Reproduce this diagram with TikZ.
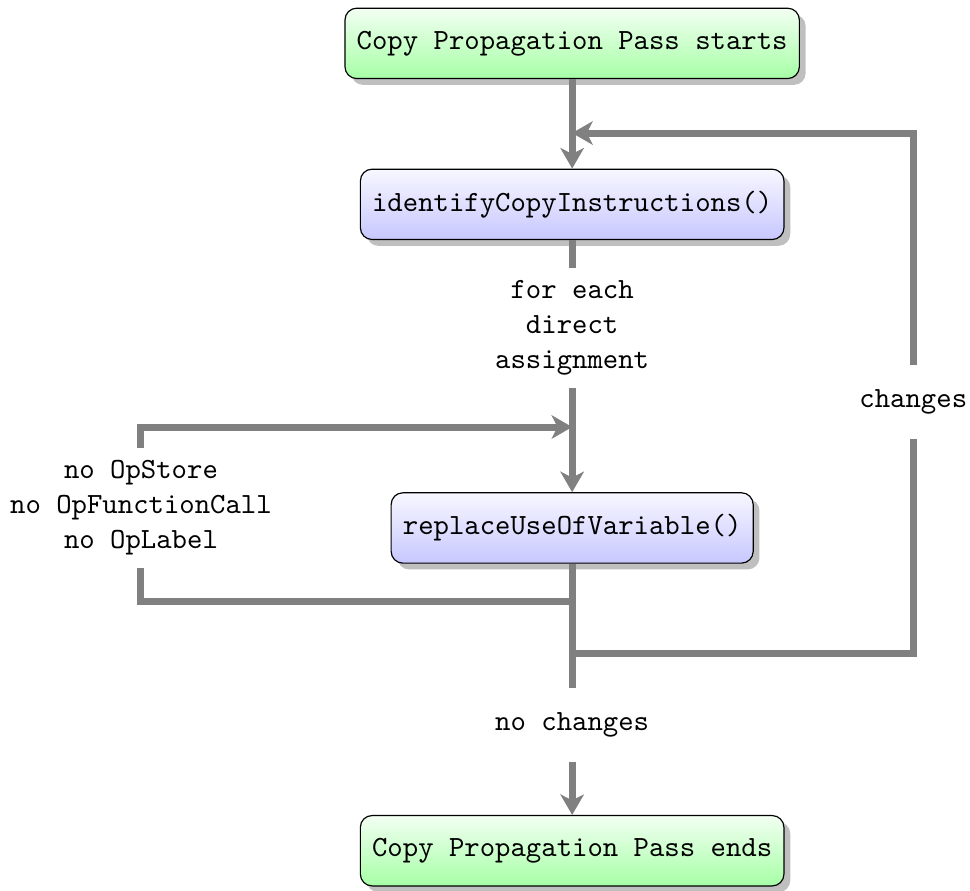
\documentclass[tikz,border=0pt]{standalone}
\usepackage{tikz}
\usetikzlibrary{arrows.meta,shadows,positioning}

\tikzset{
  pass/.style={draw, rounded corners=4pt, inner xsep=4pt, minimum height=24pt, font=\ttfamily, drop shadow, top color=green!5, bottom color=green!35},
  func/.style={pass, top color=blue!3, bottom color=blue!22},
  lbl/.style={font=\ttfamily, align=center, inner xsep=0pt, inner ysep=4pt, minimum height=25pt},
  line/.style={draw=gray, line width=2.4pt},
  flow/.style={line, -{Stealth[length=7pt,width=8pt,inset=2pt]}},
}

\begin{document}
\begin{tikzpicture}
\useasboundingbox (0,0) rectangle (11.63,-10.68);
\pgfmathsetmacro{\mx}{6.86}
\node[pass] (start) at (\mx,-0.52) {Copy Propagation Pass starts};
\node[func] (identify) at (\mx,-2.45) {identifyCopyInstructions()};
\node[lbl] (each) at (\mx,-3.93) {for each\\direct\\assignment};
\node[func] (replace) at (\mx,-6.33) {replaceUseOfVariable()};
\node[lbl] (ops) at (1.69,-6.09) {no OpStore\\no OpFunctionCall\\no OpLabel};
\node[lbl] (chg) at (10.95,-4.82) {changes};
\node[lbl] (nochg) at (\mx,-8.69) {no changes};
\node[pass] (stop) at (\mx,-10.20) {Copy Propagation Pass ends};
\coordinate (jtop) at (\mx,-1.595);
\coordinate (jleft) at (\mx,-5.12);
\coordinate (jbot) at (\mx,-7.21);
\coordinate (jright) at (\mx,-7.83);

\draw[flow] (start) -- (identify);
\draw[line] (identify) -- (each);
\draw[flow] (each) -- (replace);
\draw[flow] (ops.north) |- (jleft);
\draw[line] (ops.south) |- (jbot);
\draw[line] (replace) -- (nochg);
\draw[flow] (nochg) -- (stop);
\draw[line] (jright) -| (chg.south);
\draw[flow] (chg.north) |- (jtop);
\end{tikzpicture}
\end{document}
